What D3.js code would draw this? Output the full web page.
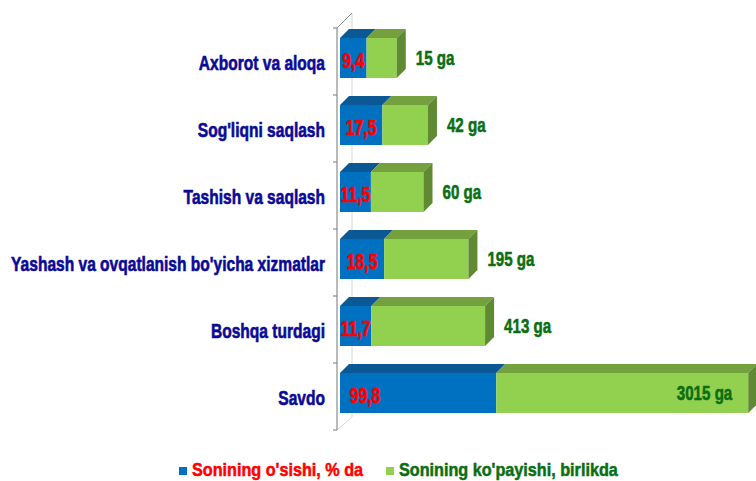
<!DOCTYPE html>
<html>
<head>
<meta charset="utf-8">
<script src="https://cdn.jsdelivr.net/npm/d3@7"></script>
<style>
  html, body { margin: 0; padding: 0; background: #ffffff; }
  svg { display: block; }
  text { font-family: "Liberation Sans", Arial, sans-serif; font-weight: 700; stroke-width: 0.5px; }
</style>
</head>
<body>
<div id="chart"></div>
<script>
const categories = [
  "Axborot va aloqa",
  "Sog'liqni saqlash",
  "Tashish va saqlash",
  "Yashash va ovqatlanish bo'yicha xizmatlar",
  "Boshqa turdagi",
  "Savdo"
];
const growthPercent = [9.4, 17.5, 11.5, 18.5, 11.7, 99.8];
const growthLabels = ["9,4", "17,5", "11,5", "18,5", "11,7", "99,8"];
const countIncrease = [15, 42, 60, 195, 413, 3015];
const seriesNames = ["Sonining o'sishi, % da", "Sonining ko'payishi, birlikda"];

const width = 756;
const height = 481;
const plotLeft = 340;
const depth = { dx: 9, dy: 9 };

const colors = {
  blueFront: "#0070c0",
  blueTop: "#0a5894",
  greenFront: "#92d050",
  greenTop: "#74a03e",
  greenSide: "#5f8a33",
  category: "#0a0a96",
  red: "#ff0000",
  greenText: "#0a6e12",
  axis: "#8c8c8c",
  wall: "#d9d9d9"
};

// Narrow, slightly tall lettering like the original (no Arial Narrow here).
const squeeze = (sx, sy) => `scale(${sx},${sy})`;

const svg = d3.select("#chart")
  .append("svg")
  .attr("width", width)
  .attr("height", height);

const y = d3.scaleBand()
  .domain(categories)
  .range([28, 430])
  .paddingInner(0)
  .paddingOuter(0);

// The two series sit end to end, each with its own compressed scale.
const xBlue = d3.scalePow().exponent(0.75).domain([0, 100]).range([0, 156.5]);
const xGreen = d3.scalePow().exponent(0.4).domain([0, 3015]).range([0, 252]);

// back wall line and 3D axis edges
const yTop = y.range()[0];
const yBottom = y.range()[1];
const axisX = plotLeft - 3;
svg.append("line")
  .attr("x1", axisX + 15).attr("x2", axisX + 15)
  .attr("y1", yTop - 15).attr("y2", yBottom - 13)
  .attr("stroke", colors.wall).attr("stroke-width", 1);
svg.append("line")
  .attr("x1", axisX).attr("y1", yTop)
  .attr("x2", axisX + 15).attr("y2", yTop - 15)
  .attr("stroke", colors.axis).attr("stroke-width", 1);
svg.append("line")
  .attr("x1", axisX).attr("y1", yBottom)
  .attr("x2", axisX + 15).attr("y2", yBottom - 13)
  .attr("stroke", colors.wall).attr("stroke-width", 1);
svg.append("line")
  .attr("x1", axisX).attr("x2", axisX)
  .attr("y1", yTop).attr("y2", yBottom)
  .attr("stroke", colors.axis).attr("stroke-width", 1.2);

// tick marks between categories
const boundaries = categories.map((c) => y(c)).concat([yBottom]);
svg.append("g")
  .selectAll("line")
  .data(boundaries)
  .join("line")
  .attr("x1", axisX - 4).attr("x2", axisX)
  .attr("y1", (d) => d).attr("y2", (d) => d)
  .attr("stroke", colors.axis).attr("stroke-width", 1.2);

// category labels
const axisG = svg.append("g")
  .attr("transform", `translate(${plotLeft - 15},2)`)
  .call(d3.axisLeft(y).tickSize(0).tickPadding(0))
  .call((g) => g.select(".domain").remove());
axisG.selectAll("text")
  .attr("x", 0)
  .attr("dy", "0.35em")
  .attr("transform", squeeze(0.915, 1.15))
  .attr("fill", colors.category)
  .attr("stroke", colors.category)
  .style("font-size", "17px")
  .style("font-family", null);

const barTop = (c) => y(c) + 10;
const barH = 40;

function topFace(x1, x2, yt) {
  return `M${x1},${yt}L${x2},${yt}L${x2 + depth.dx},${yt - depth.dy}L${x1 + depth.dx},${yt - depth.dy}Z`;
}

const rows = categories.map((c, i) => ({
  category: c,
  pct: growthPercent[i],
  pctLabel: growthLabels[i],
  count: countIncrease[i]
}));

const bars = svg.append("g")
  .selectAll("g.bar")
  .data(rows)
  .join("g")
  .attr("class", "bar");

bars.each(function (d) {
  const g = d3.select(this);
  const yt = barTop(d.category);
  const xb0 = plotLeft;
  const xb1 = plotLeft + xBlue(d.pct);
  const xg1 = xb1 + xGreen(d.count);

  g.append("rect")
    .attr("x", xb0).attr("y", yt)
    .attr("width", xb1 - xb0).attr("height", barH)
    .attr("fill", colors.blueFront);
  g.append("path").attr("d", topFace(xb0, xb1, yt)).attr("fill", colors.blueTop);

  g.append("rect")
    .attr("x", xb1).attr("y", yt)
    .attr("width", xg1 - xb1).attr("height", barH)
    .attr("fill", colors.greenFront);
  g.append("path").attr("d", topFace(xb1, xg1, yt)).attr("fill", colors.greenTop);
  g.append("path")
    .attr("d", `M${xg1},${yt}L${xg1 + depth.dx},${yt - depth.dy}L${xg1 + depth.dx},${yt + barH - depth.dy}L${xg1},${yt + barH}Z`)
    .attr("fill", colors.greenSide);

  // red percent label, centred on the blue part but kept near the base
  const cx = Math.min((xb0 + xb1) / 2, xb0 + 25);
  const cy = yt + barH / 2 + 2;
  g.append("text")
    .attr("transform", `translate(${cx},${cy}) ${squeeze(0.83, 1.15)}`)
    .attr("text-anchor", "middle")
    .attr("dy", "0.35em")
    .attr("fill", colors.red)
    .attr("stroke", colors.red)
    .style("font-size", "19px")
    .text(d.pctLabel);

  // green count label outside the end, or inside when it runs off the chart
  const label = `${d.count} ga`;
  const outsideX = xg1 + 19;
  const inside = outsideX + 45 > width;
  g.append("text")
    .attr("transform", `translate(${inside ? xg1 - 16 : outsideX},${yt + barH / 2}) ${squeeze(0.84, 1.08)}`)
    .attr("text-anchor", inside ? "end" : "start")
    .attr("dy", "0.35em")
    .attr("fill", colors.greenText)
    .attr("stroke", colors.greenText)
    .style("font-size", "18px")
    .text(label);
});

// legend
const legend = svg.append("g").attr("transform", "translate(0,470)");
const legendItems = [
  { name: seriesNames[0], swatch: colors.blueFront, text: colors.red, x: 179 },
  { name: seriesNames[1], swatch: colors.greenFront, text: colors.greenText, x: 386 }
];
legendItems.forEach((item) => {
  legend.append("rect")
    .attr("x", item.x).attr("y", -3)
    .attr("width", 8).attr("height", 8)
    .attr("fill", item.swatch);
  legend.append("text")
    .attr("transform", `translate(${item.x + 13},0) ${squeeze(0.9, 1)}`)
    .attr("dy", "0.35em")
    .attr("fill", item.text)
    .attr("stroke", item.text)
    .style("font-size", "18px")
    .text(item.name);
});
</script>
</body>
</html>
